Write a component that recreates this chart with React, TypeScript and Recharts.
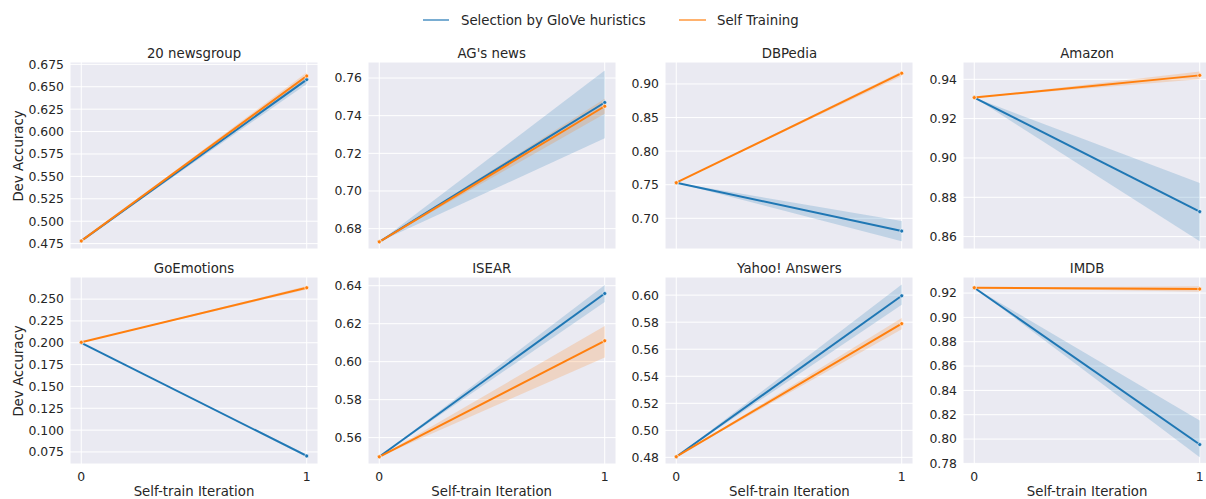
import React from "react";
import { Area, CartesianGrid, ComposedChart, Line, XAxis, YAxis } from "recharts";

// Dev accuracy per dataset after 0 and 1 self-training iterations (mean and CI band).
const datasets = ["20 newsgroup", "AG's news", "DBPedia", "Amazon", "GoEmotions", "ISEAR", "Yahoo! Answers", "IMDB"];
const iterations = [0, 1];

const gloveMean = [
  [0.478, 0.658], [0.673, 0.747], [0.753, 0.681], [0.9307, 0.8727],
  [0.2, 0.0704], [0.5499, 0.6359], [0.4805, 0.5995], [0.9244, 0.7955],
];
const gloveLow = [
  [0.478, 0.653], [0.673, 0.728], [0.753, 0.666], [0.9307, 0.8577],
  [0.2, 0.069], [0.5499, 0.6314], [0.4805, 0.5928], [0.9244, 0.7851],
];
const gloveHigh = [
  [0.478, 0.663], [0.673, 0.764], [0.753, 0.696], [0.9307, 0.8873],
  [0.2, 0.072], [0.5499, 0.6404], [0.4805, 0.6079], [0.9244, 0.8153],
];

const selfMean = [
  [0.478, 0.662], [0.673, 0.745], [0.753, 0.916], [0.9307, 0.942],
  [0.2005, 0.263], [0.5499, 0.611], [0.4805, 0.5789], [0.9244, 0.9233],
];
const selfLow = [
  [0.478, 0.658], [0.673, 0.741], [0.753, 0.912], [0.9307, 0.94],
  [0.2005, 0.261], [0.5499, 0.6022], [0.4805, 0.5747], [0.9244, 0.921],
];
const selfHigh = [
  [0.478, 0.666], [0.673, 0.749], [0.753, 0.919], [0.9307, 0.944],
  [0.2005, 0.265], [0.5499, 0.6188], [0.4805, 0.5831], [0.9244, 0.9255],
];

const yDomains = [
  [0.469, 0.6776], [0.6692, 0.7685], [0.6543, 0.9327], [0.8537, 0.9488],
  [0.0612, 0.2753], [0.5461, 0.6446], [0.4751, 0.6134], [0.7795, 0.9332],
];
const yTicks = [
  [0.475, 0.5, 0.525, 0.55, 0.575, 0.6, 0.625, 0.65, 0.675],
  [0.68, 0.7, 0.72, 0.74, 0.76],
  [0.7, 0.75, 0.8, 0.85, 0.9],
  [0.86, 0.88, 0.9, 0.92, 0.94],
  [0.075, 0.1, 0.125, 0.15, 0.175, 0.2, 0.225, 0.25],
  [0.56, 0.58, 0.6, 0.62, 0.64],
  [0.48, 0.5, 0.52, 0.54, 0.56, 0.58, 0.6],
  [0.78, 0.8, 0.82, 0.84, 0.86, 0.88, 0.9, 0.92],
];
const yDecimals = [3, 2, 2, 2, 3, 2, 2, 2];

const BLUE = "#1f77b4";
const ORANGE = "#ff7f0e";
const INK = "#262626";
const FONT = "'DejaVu Sans', sans-serif";

const PLOT_W = 248;
const PLOT_H = 187;
const AXIS_W = 50;
const PAD = 10;
const colLeft = (c: number) => 70 + c * 297.7;
const rowTop = [62, 277];

function Panel({ i }: { i: number }) {
  const col = i % 4;
  const row = Math.floor(i / 4);
  const bottom = row === 1;
  const data = iterations.map((it, j) => ({
    x: it,
    g: gloveMean[i][j],
    gBand: [gloveLow[i][j], gloveHigh[i][j]],
    s: selfMean[i][j],
    sBand: [selfLow[i][j], selfHigh[i][j]],
  }));
  const xAxisH = bottom ? 30 : 0;
  const bottomPad = bottom ? 0 : PAD;
  const left = colLeft(col);
  const top = rowTop[row];
  const tickStyle = { fontSize: 12.4, fill: INK, fontFamily: FONT };

  return (
    <>
      <div
        style={{
          position: "absolute",
          left: left + PLOT_W / 2,
          top: top - 9,
          transform: "translate(-50%, -50%)",
          fontFamily: FONT,
          fontSize: 13.3,
          color: INK,
          whiteSpace: "nowrap",
        }}
      >
        {datasets[i]}
      </div>
      <div style={{ position: "absolute", left: left - AXIS_W, top: top - PAD }}>
        <ComposedChart
          width={AXIS_W + PLOT_W}
          height={PAD + PLOT_H + xAxisH + bottomPad}
          data={data}
          margin={{ top: PAD, right: 0, bottom: bottomPad, left: 0 }}
        >
          <CartesianGrid fill="#EAEAF2" stroke="#ffffff" strokeWidth={1} />
          <XAxis
            type="number"
            dataKey="x"
            domain={[-0.05, 1.05]}
            ticks={iterations}
            interval={0}
            hide={!bottom}
            height={xAxisH}
            axisLine={false}
            tickLine={false}
            tickSize={0}
            tickMargin={8}
            tick={tickStyle}
          />
          <YAxis
            type="number"
            domain={yDomains[i]}
            ticks={yTicks[i]}
            interval={0}
            allowDataOverflow
            width={AXIS_W}
            axisLine={false}
            tickLine={false}
            tickSize={0}
            tickMargin={6}
            tick={tickStyle}
            tickFormatter={(v: number) => v.toFixed(yDecimals[i])}
          />
          <Area dataKey="gBand" type="linear" stroke="none" fill={BLUE} fillOpacity={0.2} isAnimationActive={false} activeDot={false} />
          <Line
            dataKey="g"
            type="linear"
            stroke={BLUE}
            strokeWidth={2}
            dot={{ r: 2, fill: BLUE, stroke: "#fff", strokeWidth: 0.6 }}
            activeDot={false}
            isAnimationActive={false}
          />
          <Area dataKey="sBand" type="linear" stroke="none" fill={ORANGE} fillOpacity={0.2} isAnimationActive={false} activeDot={false} />
          <Line
            dataKey="s"
            type="linear"
            stroke={ORANGE}
            strokeWidth={2}
            dot={{ r: 2, fill: ORANGE, stroke: "#fff", strokeWidth: 0.6 }}
            activeDot={false}
            isAnimationActive={false}
          />
        </ComposedChart>
      </div>
      {bottom && (
        <div
          style={{
            position: "absolute",
            left: left + PLOT_W / 2,
            top: 491,
            transform: "translate(-50%, -50%)",
            fontFamily: FONT,
            fontSize: 13.3,
            color: INK,
            whiteSpace: "nowrap",
          }}
        >
          Self-train Iteration
        </div>
      )}
      {col === 0 && (
        <div
          style={{
            position: "absolute",
            left: 18,
            top: top + PLOT_H / 2,
            transform: "translate(-50%, -50%) rotate(-90deg)",
            fontFamily: FONT,
            fontSize: 13.3,
            color: INK,
            whiteSpace: "nowrap",
          }}
        >
          Dev Accuracy
        </div>
      )}
    </>
  );
}

function Legend() {
  return (
    <svg width={1206} height={40} style={{ position: "absolute", left: 0, top: 0 }}>
      <line x1={423} x2={449} y1={20} y2={20} stroke={BLUE} strokeWidth={2} strokeOpacity={0.6} />
      <text x={461} y={20} dy="0.355em" fontSize={13.3} fill={INK} fontFamily={FONT}>
        Selection by GloVe huristics
      </text>
      <line x1={679} x2={706} y1={20} y2={20} stroke={ORANGE} strokeWidth={2} strokeOpacity={0.6} />
      <text x={717} y={20} dy="0.355em" fontSize={13.3} fill={INK} fontFamily={FONT}>
        Self Training
      </text>
    </svg>
  );
}

export default function App() {
  return (
    <div
      style={{
        position: "absolute",
        left: 0,
        top: 0,
        width: 1206,
        height: 499,
        overflow: "hidden",
        background: "#ffffff",
      }}
    >
      <Legend />
      {datasets.map((_, i) => (
        <Panel key={datasets[i]} i={i} />
      ))}
    </div>
  );
}
